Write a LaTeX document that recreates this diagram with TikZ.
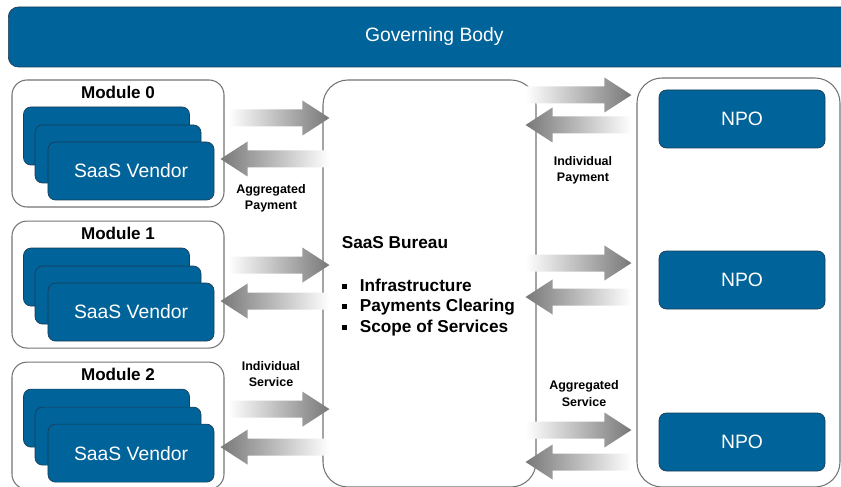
\documentclass[tikz,border=0pt]{standalone}
\usepackage{fontspec}
\setmainfont{Liberation Sans}
\usetikzlibrary{positioning,calc}

\definecolor{govblue}{RGB}{0,99,154}
\definecolor{edgeblue}{RGB}{28,62,88}
\definecolor{boxgray}{RGB}{115,115,115}
\definecolor{arrowgray}{RGB}{120,120,120}

\newcommand\blt{\makebox[0.36cm][l]{\rule[1.6pt]{2.8pt}{2.8pt}}}

\begin{document}
\begin{tikzpicture}[
      bluebox/.style={
        draw=edgeblue,
        fill=govblue,
        text=white,
        rounded corners=0.15cm,
        minimum width=3.32cm,
        minimum height=1.16cm,
        font=\fontsize{11}{13}\selectfont
      },
      modbox/.style={draw=boxgray, line width=0.6pt, rounded corners=0.3cm,
        minimum width=4.24cm, minimum height=2.54cm},
      bigbox/.style={draw=boxgray, line width=0.6pt, rounded corners=0.5cm},
      modlabel/.style={inner sep=0pt, font=\fontsize{9.7}{11}\selectfont\bfseries},
      flowlabel/.style={align=center, inner sep=0pt,
        font=\fontsize{7.1}{9.3}\selectfont\bfseries},
      % fat block arrows, white tail to grey head
      fatR/.style={left color=white, right color=arrowgray,
        to path={let \p1=(\tikztostart), \p2=(\tikztotarget) in
          (\x1,\y1+0.17cm) -- (\x2-0.54cm,\y1+0.17cm) -- (\x2-0.54cm,\y1+0.35cm)
          -- (\x2,\y1) -- (\x2-0.54cm,\y1-0.35cm) -- (\x2-0.54cm,\y1-0.17cm)
          -- (\x1,\y1-0.17cm) -- cycle}},
      fatL/.style={left color=arrowgray, right color=white,
        to path={let \p1=(\tikztostart), \p2=(\tikztotarget) in
          (\x1,\y1+0.17cm) -- (\x2+0.54cm,\y1+0.17cm) -- (\x2+0.54cm,\y1+0.35cm)
          -- (\x2,\y1) -- (\x2+0.54cm,\y1-0.35cm) -- (\x2+0.54cm,\y1-0.17cm)
          -- (\x1,\y1-0.17cm) -- cycle}}
    ]
    \useasboundingbox (0,0) rectangle (16.82,9.72);
    \clip (0,0) rectangle (16.82,9.72);

    % Top bar
    \node[bluebox, anchor=west, minimum width=17.04cm, minimum height=1.2cm,
      rounded corners=0.2cm] (gov) at (0.16,8.98) {Governing Body};

    % Module 0
    \node[modbox] (mod0) at (2.36,6.85) {};
    \node[modlabel, below=0.12cm of mod0.north] (lab0) {Module 0};
    \node[bluebox] (v0a) at ([shift={(-0.23,0.15)}]mod0.center) {};
    \node[bluebox] (v0b) at ([shift={(0,-0.21)}]mod0.center) {};
    \node[bluebox] (v0c) at ([shift={(0.26,-0.55)}]mod0.center) {SaaS Vendor};

    % Module 1
    \node[modbox, below=0.26cm of mod0] (mod1) {};
    \node[modlabel, below=0.12cm of mod1.north] (lab1) {Module 1};
    \node[bluebox] (v1a) at ([shift={(-0.23,0.15)}]mod1.center) {};
    \node[bluebox] (v1b) at ([shift={(0,-0.21)}]mod1.center) {};
    \node[bluebox] (v1c) at ([shift={(0.26,-0.55)}]mod1.center) {SaaS Vendor};

    % Module 2
    \node[modbox, below=0.26cm of mod1] (mod2) {};
    \node[modlabel, below=0.12cm of mod2.north] (lab2) {Module 2};
    \node[bluebox] (v2a) at ([shift={(-0.23,0.15)}]mod2.center) {};
    \node[bluebox] (v2b) at ([shift={(0,-0.21)}]mod2.center) {};
    \node[bluebox] (v2c) at ([shift={(0.26,-0.55)}]mod2.center) {SaaS Vendor};

    % Bureau
    \node[bigbox, minimum width=4.26cm, minimum height=8.14cm] (bureau) at (8.59,4.05) {};
    \node[anchor=west, align=left, inner sep=0pt,
      font=\fontsize{9.8}{11.7}\selectfont\bfseries] (btext)
      at ([xshift=0.38cm,yshift=-0.06cm]bureau.west)
      {SaaS Bureau\\[12.4pt]
       \blt Infrastructure\\
       \blt Payments Clearing\\
       \blt Scope of Services};

    % NPO side
    \node[bigbox, minimum width=4.06cm, minimum height=8.18cm] (npos) at (14.77,4.07) {};
    \node[bluebox] (npo0) at (14.84,7.34) {NPO};
    \node[bluebox] (npo1) at (14.84,4.12) {NPO};
    \node[bluebox] (npo2) at (14.84,0.88) {NPO};

    % Flow labels
    \node[flowlabel] (aggpay) at (5.42,5.75) {Aggregated\\Payment};
    \node[flowlabel] (indserv) at (5.42,2.24) {Individual\\Service};
    \node[flowlabel] (indpay) at (11.66,6.32) {Individual\\Payment};
    \node[flowlabel] (aggserv) at (11.68,1.85) {Aggregated\\Service};

    % Modules <-> bureau
    \shade[fatR] ($(mod0.east)+(0.08,0.51)$) to ($(bureau.west |- mod0.east)+(0.14,0.51)$);
    \shade[fatL] ($(bureau.west |- mod0.east)+(0.14,-0.31)$) to ($(mod0.east)+(-0.08,-0.31)$);
    \shade[fatR] ($(mod1.east)+(0.08,0.39)$) to ($(bureau.west |- mod1.east)+(0.14,0.39)$);
    \shade[fatL] ($(bureau.west |- mod1.east)+(0.14,-0.33)$) to ($(mod1.east)+(-0.08,-0.33)$);
    \shade[fatR] ($(mod2.east)+(0.08,0.33)$) to ($(bureau.west |- mod2.east)+(0.14,0.33)$);
    \shade[fatL] ($(bureau.west |- mod2.east)+(0.14,-0.43)$) to ($(mod2.east)+(-0.08,-0.43)$);

    % Bureau <-> NPOs
    \shade[fatR] ($(bureau.east |- npo0)+(-0.22,0.48)$) to ($(npos.west |- npo0)+(-0.1,0.48)$);
    \shade[fatL] ($(npos.west |- npo0)+(-0.1,-0.12)$) to ($(bureau.east |- npo0)+(-0.22,-0.12)$);
    \shade[fatR] ($(bureau.east |- npo1)+(-0.22,0.34)$) to ($(npos.west |- npo1)+(-0.1,0.34)$);
    \shade[fatL] ($(npos.west |- npo1)+(-0.1,-0.34)$) to ($(bureau.east |- npo1)+(-0.22,-0.34)$);
    \shade[fatR] ($(bureau.east |- npo2)+(-0.22,0.24)$) to ($(npos.west |- npo2)+(-0.1,0.24)$);
    \shade[fatL] ($(npos.west |- npo2)+(-0.1,-0.40)$) to ($(bureau.east |- npo2)+(-0.22,-0.40)$);
  \end{tikzpicture}
\end{document}
